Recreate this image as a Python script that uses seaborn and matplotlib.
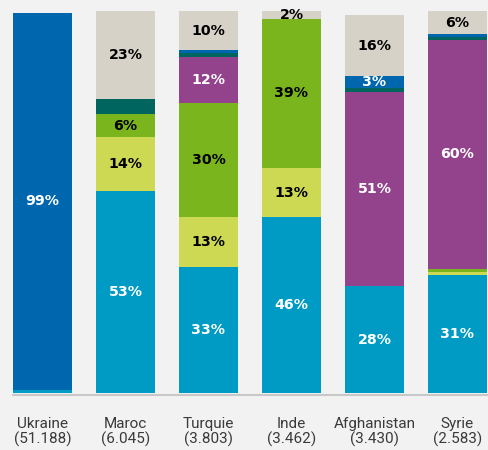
import numpy as np
import pandas as pd
import matplotlib
matplotlib.use("Agg")
import matplotlib.pyplot as plt
import seaborn as sns

# Countries with number of people (thousands)
countries = ["Ukraine", "Maroc", "Turquie", "Inde", "Afghanistan", "Syrie"]
totals = ["51.188", "6.045", "3.803", "3.462", "3.430", "2.583"]

# Share (%) per segment, stacked from bottom to top
seg_a = [0.7, 53, 33, 46, 28, 31]   # light blue
seg_b = [0, 14, 13, 13, 0, 0.8]     # yellow-green
seg_c = [0, 6, 30, 39, 0, 0.8]      # green
seg_d = [0, 0, 12, 0, 51, 60]       # purple
seg_e = [0, 4, 1, 0, 1, 0.7]        # dark teal
seg_f = [99, 0, 1, 0, 3, 0.7]       # blue
seg_g = [0, 23, 10, 2, 16, 6]       # beige

segments = [seg_a, seg_b, seg_c, seg_d, seg_e, seg_f, seg_g]
colors = ["#009BC4", "#CDD853", "#7AB51D", "#93438C", "#00645F", "#0066AE", "#D6D2C8"]
text_colors = ["white", "black", "black", "white", None, "white", "black"]

bg = "#F2F2F2"
sns.set_theme(style="white")
plt.rcParams["font.family"] = ["Roboto", "DejaVu Sans"]

fig = plt.figure(figsize=(4.88, 4.5), dpi=100, facecolor=bg)
ax = fig.add_axes([0, 0.1267, 1, 0.8478])
ax.set_facecolor(bg)

labels = [f"{c}\n({t})" for c, t in zip(countries, totals)]
seg_arr = np.array(segments, dtype=float)
cum = np.cumsum(seg_arr, axis=0)

# Draw cumulative layers from the top down so each stack shows its segments
for i in range(len(segments) - 1, -1, -1):
    df = pd.DataFrame({"country": labels, "value": cum[i]})
    sns.barplot(data=df, x="country", y="value", color=colors[i],
                saturation=1, width=0.71, ax=ax, errorbar=None,
                linewidth=0, edgecolor="none")

# Percentage labels at segment centres
for i, seg in enumerate(segments):
    bottoms = cum[i] - seg_arr[i]
    for j, v in enumerate(seg):
        if v >= 2 and text_colors[i]:
            ax.text(j, bottoms[j] + v / 2, f"{v:g}%", ha="center", va="center",
                    color=text_colors[i], fontsize=10.2, fontweight="bold",
                    family=["DejaVu Sans"], clip_on=False)

ax.set_xlim(-0.512, 5.368)
ax.set_ylim(0, 100)
ax.axhline(-0.4, xmin=13 / 488, xmax=1, color="#C8C8C8", lw=1.5, clip_on=False)

for s in ax.spines.values():
    s.set_visible(False)
ax.set_yticks([])
ax.set_xlabel("")
ax.set_ylabel("")
ax.tick_params(axis="x", length=0, pad=17, labelsize=11, labelcolor="#3a3a3a")
for t in ax.get_xticklabels():
    t.set_fontweight("normal")
    t.set_linespacing(1.12)

fig.savefig("out.png", dpi=100, facecolor=bg)
